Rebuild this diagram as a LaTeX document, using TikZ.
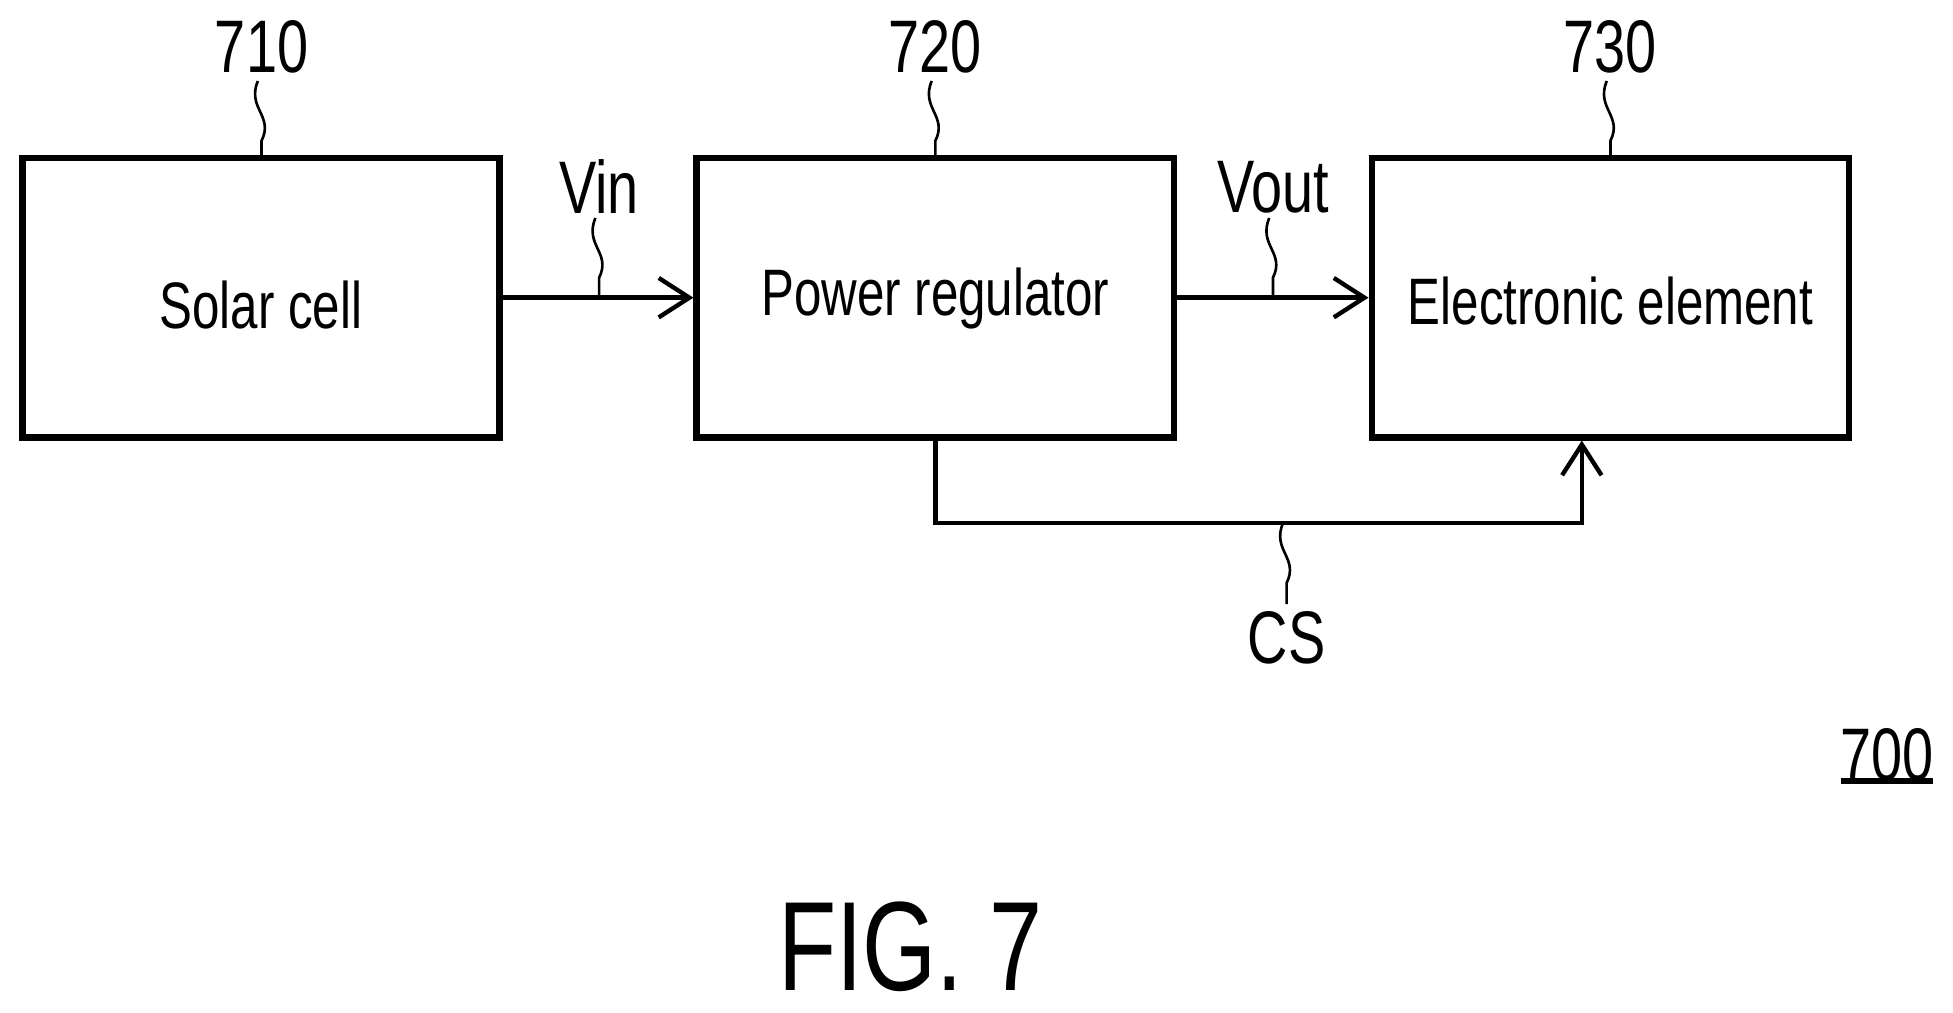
\documentclass[tikz,border=0pt]{standalone}
\usepackage{fontspec}
\setmainfont{Liberation Sans}
\usetikzlibrary{arrows.meta}
\newcommand{\cn}[1]{\scalebox{0.75}[1]{#1}}
\begin{document}
\begin{tikzpicture}[x=0.01cm,y=-0.01cm,
  box/.style={draw,line width=1.5pt,minimum width=3.83cm,minimum height=2.24cm,inner sep=0pt},
  txt/.style={font=\fontsize{15}{15}\selectfont,inner sep=0pt},
  lbl/.style={font=\fontsize{17}{17}\selectfont,inner sep=0pt},
  arr/.style={line width=1pt,-{Straight Barb[length=7pt,width=9pt]}},
  lead/.style={line width=0.6pt}]
\useasboundingbox (0,0) rectangle (1568,813);
\node[box] (a) at (209.5,239) {};
\node[box] (b) at (751,239) {};
\node[box] (c) at (1293,239) {};
\node[txt] (ta) at (209.5,245) {\cn{Solar cell}};
\node[txt] (tb) at (751,240) {\cn{Power regulator}};
\node[txt] (tc) at (1293,242) {\cn{Electronic element}};
\node[lbl] (la) at (210,38) {\cn{710}};
\node[lbl] (lb) at (751,38) {\cn{720}};
\node[lbl] (lc) at (1293,38) {\cn{730}};
\node[lbl] (vin) at (481,150) {\cn{Vin}};
\node[lbl] (vout) at (1022,150) {\cn{Vout}};
\node[lbl] (cs) at (1033,512) {\cn{CS}};
\node[lbl] (n700) at (1515,606) {\cn{700}};
\draw[line width=1.2pt] (1478,627) -- (1552,627);
\node[font=\fontsize{29}{29}\selectfont,inner sep=0pt] (fig) at (731,760) {\cn{FIG. 7}};
\draw[arr] (a.east) -- (b.west);
\draw[arr] (b.east) -- (c.west);
\coordinate (c1) at (751,420);
\coordinate (c2) at (1270,420);
\draw[arr] (b.south) -- (c1) -- (c2) -- (c2 |- c.south);
% leaders
\foreach \x/\ya/\yb in {210/65/127, 751/65/127, 1293/65/127, 481/175/238, 1022/175/238, 1033/420/485}{
  \draw[lead] (\x-3,\ya) .. controls (\x-12,\ya+22) and (\x+10,\ya+28) .. (\x,\ya+48) -- (\x,\yb);
}
\end{tikzpicture}
\end{document}
